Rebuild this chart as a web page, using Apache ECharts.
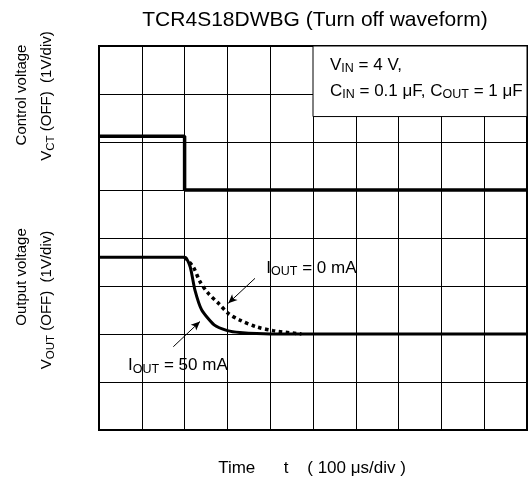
<!DOCTYPE html>
<html>
<head>
<meta charset="utf-8">
<script src="https://cdn.jsdelivr.net/npm/echarts@6/dist/echarts.min.js"></script>
<style>
    html, body { margin: 0; padding: 0; background: #fff; }
    #chart { width: 528px; height: 481px; }
</style>
</head>
<body>
<div id="chart"></div>
<script>
// time in divisions (100 us/div), voltage in divisions (1 V/div)
const ctrlTime = [0, 2, 2, 10]
const ctrlVolt = [6.12, 6.12, 5, 5]

const out50Time = [0, 2.0, 2.13, 2.24, 2.40, 2.69, 3.0, 3.29, 4.0, 10]
const out50Volt = [3.6, 3.6, 3.40, 2.92, 2.5, 2.19, 2.07, 2.03, 2.0, 2.0]

const out0Time = [2.0, 2.2, 2.36, 2.55, 2.79, 3.02, 3.29, 3.68, 4.07, 4.73]
const out0Volt = [3.6, 3.40, 3.09, 2.85, 2.64, 2.43, 2.29, 2.15, 2.07, 2.0]

const FONT = '"Liberation Sans", Arial, sans-serif'

const zip = (xs, ys) => xs.map((x, i) => [x, ys[i]])

const chart = echarts.init(document.getElementById('chart'))

// rich text styles: normal + subscript, at two sizes
const makeRich = (big, small) => ({
    n: { fontSize: big, fontFamily: FONT, color: '#000', lineHeight: big + 4 },
    s: { fontSize: small, fontFamily: FONT, color: '#000', lineHeight: small, verticalAlign: 'bottom' }
})
const richAxis = makeRich(15, 11.5)
const richNote = makeRich(17, 12.5)

chart.setOption({
    animation: false,
    grid: { left: 99, top: 46, width: 428, height: 384, show: true, borderColor: '#000', borderWidth: 2 },
    xAxis: {
        type: 'value', min: 0, max: 10, interval: 1,
        axisLine: { show: false }, axisTick: { show: false }, axisLabel: { show: false },
        splitLine: { lineStyle: { color: '#000', width: 1 } }
    },
    yAxis: {
        type: 'value', min: 0, max: 8, interval: 1,
        axisLine: { show: false }, axisTick: { show: false }, axisLabel: { show: false },
        splitLine: { lineStyle: { color: '#000', width: 1 } }
    },
    series: [
        {
            // condition box + annotation arrows
            type: 'line', data: [], silent: true,
            markArea: {
                silent: true,
                itemStyle: { color: '#fff', borderColor: '#000', borderWidth: 1 },
                label: { show: false },
                data: [[{ coord: [5, 6.53] }, { coord: [10, 8] }]]
            },
            markLine: {
                silent: true, symbol: ['none', 'arrow'], symbolSize: [6, 9],
                label: { show: false },
                lineStyle: { color: '#000', width: 1, type: 'solid' },
                data: [
                    [{ coord: [3.645, 3.16] }, { coord: [3.02, 2.64] }],
                    [{ coord: [1.736, 1.735] }, { coord: [2.36, 2.26] }]
                ]
            }
        },
        {
            name: 'VCT', type: 'line', data: zip(ctrlTime, ctrlVolt), symbol: 'none',
            lineStyle: { color: '#000', width: 3.5 }
        },
        {
            name: 'IOUT 0 mA', type: 'line', data: zip(out0Time, out0Volt), symbol: 'none', smooth: 0.3,
            lineStyle: { color: '#000', width: 3.5, type: [3.5, 3.5], cap: 'butt' }
        },
        {
            name: 'IOUT 50 mA', type: 'line', data: zip(out50Time, out50Volt), symbol: 'none', smooth: 0.2,
            lineStyle: { color: '#000', width: 3 }
        }
    ]
})

const px = p => chart.convertToPixel({ gridIndex: 0 }, p)
const boxTL = px([5, 8])
const lbl0 = px([3.91, 3.375])
const lbl50 = px([0.68, 1.35])

const note = (x, y, text, rich, rotation) => ({
    type: 'text', x, y, z: 100, rotation: rotation || 0,
    style: { text, rich, fill: '#000', align: rotation ? 'center' : 'left', verticalAlign: 'middle' }
})

chart.setOption({
    graphic: [
        {
            type: 'text', x: 315, y: 20, z: 100,
            style: { text: 'TCR4S18DWBG (Turn off waveform)', fill: '#000', font: '21px ' + FONT, align: 'center', verticalAlign: 'middle' }
        },
        {
            type: 'text', x: 312, y: 468, z: 100,
            style: { text: 'Time      t    ( 100 \u03bcs/div )', fill: '#000', font: '17px ' + FONT, align: 'center', verticalAlign: 'middle' }
        },
        note(boxTL[0] + 17, boxTL[1] + 19, '{n|V}{s|IN}{n| = 4 V,}', richNote),
        note(boxTL[0] + 17, boxTL[1] + 45, '{n|C}{s|IN}{n| = 0.1 \u03bcF, C}{s|OUT}{n| = 1 \u03bcF}', richNote),
        note(lbl0[0], lbl0[1], '{n|I}{s|OUT}{n| = 0 mA}', richNote),
        note(lbl50[0], lbl50[1], '{n|I}{s|OUT}{n| = 50 mA}', richNote),
        note(22, 95, '{n|Control voltage}', richAxis, Math.PI / 2),
        note(47, 96, '{n|V}{s|CT}{n| (OFF)  (1V/div)}', richAxis, Math.PI / 2),
        note(22, 277, '{n|Output voltage}', richAxis, Math.PI / 2),
        note(47, 300, '{n|V}{s|OUT}{n| (OFF)  (1V/div)}', richAxis, Math.PI / 2)
    ]
})
</script>
</body>
</html>
